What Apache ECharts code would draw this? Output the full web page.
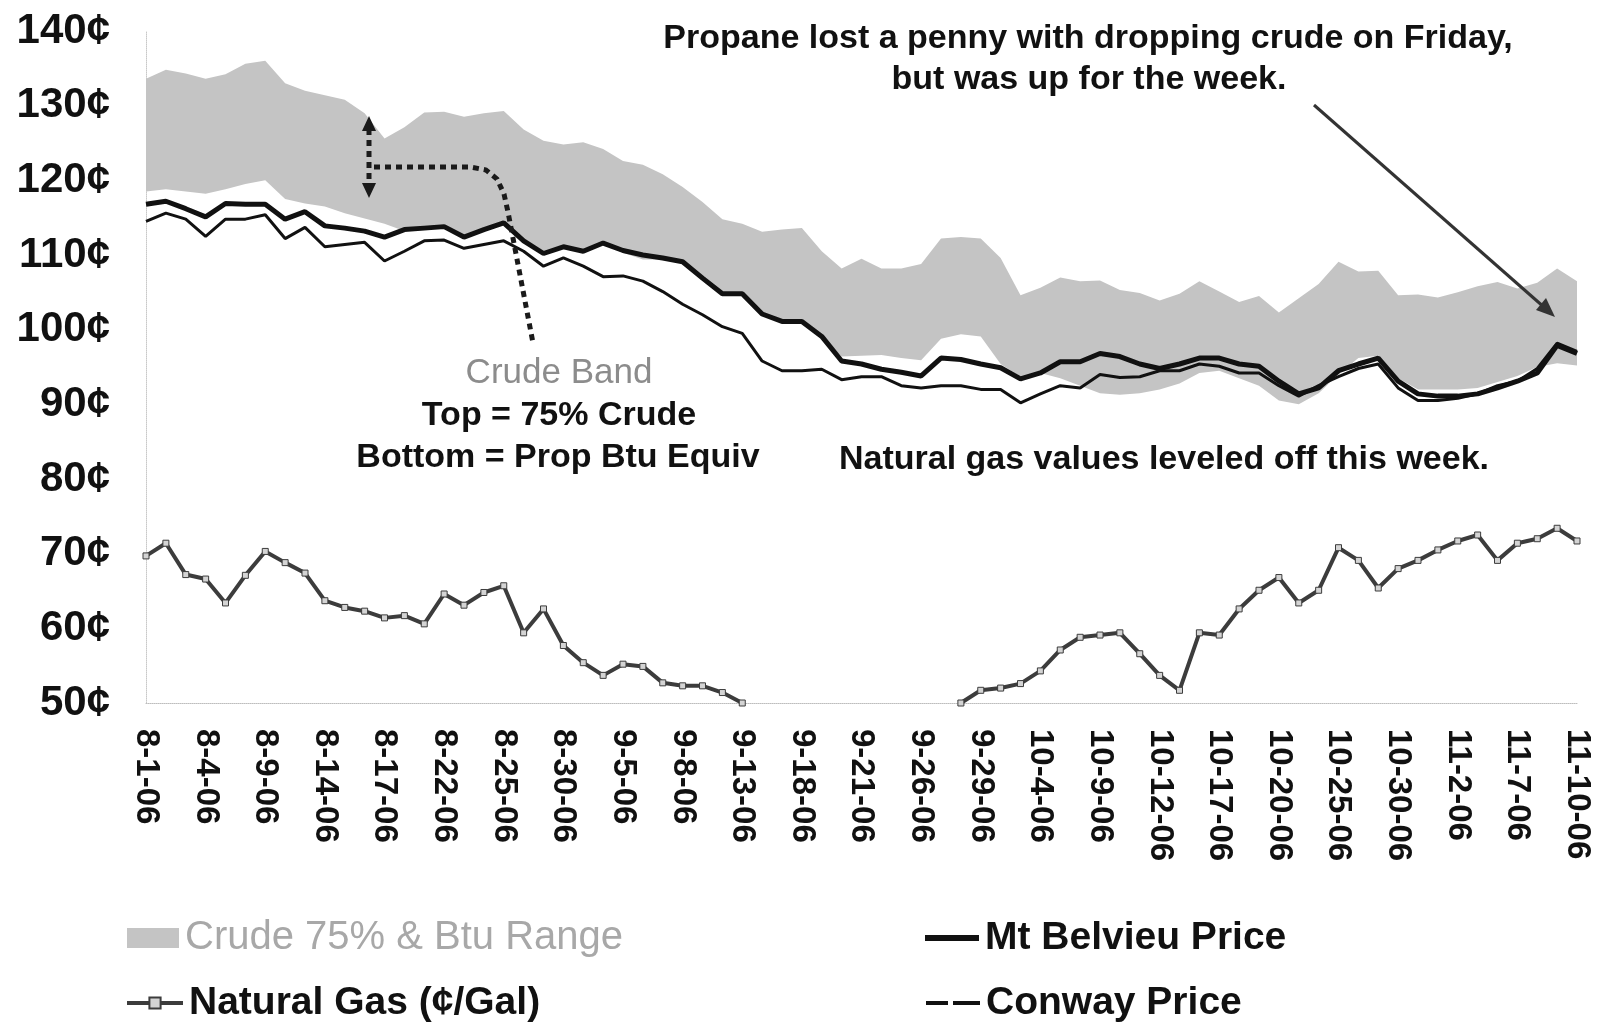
<!DOCTYPE html>
<html>
<head>
<meta charset="utf-8">
<style>
  html, body { margin: 0; padding: 0; background: #fff; }
  #chart { width: 1597px; height: 1022px; }
</style>
</head>
<body>
<div id="chart"></div>
<script src="https://cdn.jsdelivr.net/npm/echarts@6/dist/echarts.min.js"></script>
<script>
// trading days, 8-1-06 .. 11-10-06 (Labor Day skipped)
const dates = [
  '8-1-06', '8-2-06', '8-3-06', '8-4-06', '8-7-06', '8-8-06', '8-9-06', '8-10-06', '8-11-06',
  '8-14-06', '8-15-06', '8-16-06', '8-17-06', '8-18-06', '8-21-06', '8-22-06', '8-23-06', '8-24-06',
  '8-25-06', '8-28-06', '8-29-06', '8-30-06', '8-31-06', '9-1-06', '9-5-06', '9-6-06', '9-7-06',
  '9-8-06', '9-11-06', '9-12-06', '9-13-06', '9-14-06', '9-15-06', '9-18-06', '9-19-06', '9-20-06',
  '9-21-06', '9-22-06', '9-25-06', '9-26-06', '9-27-06', '9-28-06', '9-29-06', '10-2-06', '10-3-06',
  '10-4-06', '10-5-06', '10-6-06', '10-9-06', '10-10-06', '10-11-06', '10-12-06', '10-13-06', '10-16-06',
  '10-17-06', '10-18-06', '10-19-06', '10-20-06', '10-23-06', '10-24-06', '10-25-06', '10-26-06', '10-27-06',
  '10-30-06', '10-31-06', '11-1-06', '11-2-06', '11-3-06', '11-6-06', '11-7-06', '11-8-06', '11-9-06', '11-10-06',
]

// top of the band = 75% of crude (cents/gal)
const crudeTop = [
  133.6, 134.8, 134.3, 133.6, 134.2, 135.6, 136.0, 133.0, 132.0, 131.4, 130.8, 129.0, 125.6, 127.1, 129.1,
  129.2, 128.5, 129.0, 129.3, 126.8, 125.3, 124.8, 125.1, 124.2, 122.6, 122.1, 120.8, 119.1, 117.1, 114.8,
  114.2, 113.1, 113.4, 113.6, 110.5, 108.2, 109.5, 108.2, 108.2, 108.8, 112.2, 112.4, 112.2, 109.6, 104.6,
  105.6, 107.0, 106.5, 106.6, 105.3, 104.9, 103.9, 104.8, 106.5, 105.1, 103.7, 104.5, 102.3, 104.2, 106.1,
  109.1, 107.8, 107.9, 104.6, 104.7, 104.3, 105.0, 105.8, 106.4, 105.5, 106.3, 108.2, 106.5,
]

// bottom of the band = propane Btu equivalent
const btuBottom = [
  118.5, 118.8, 118.5, 118.2, 118.8, 119.5, 120.0, 117.5, 116.9, 116.5, 115.6, 114.9, 114.2, 113.2, 113.4,
  113.6, 112.2, 113.2, 114.1, 111.7, 110.0, 110.9, 110.3, 111.4, 110.3, 109.4, 109.4, 108.9, 106.7, 104.6,
  104.6, 101.9, 100.9, 100.9, 98.9, 96.4, 96.5, 96.6, 96.2, 95.9, 98.8, 99.4, 99.1, 95.4, 93.7,
  94.2, 93.5, 92.5, 91.5, 91.3, 91.5, 92.0, 92.8, 94.2, 94.5, 93.5, 92.5, 90.5, 90.0, 91.5,
  94.0, 96.2, 96.5, 93.5, 92.0, 92.0, 92.0, 92.2, 93.0, 93.8, 95.0, 95.5, 95.2,
]

// below 50 the line runs off the chart
const naturalGas = [
  69.7, 71.4, 67.2, 66.6, 63.4, 67.1, 70.3, 68.8, 67.4, 63.7, 62.8, 62.3, 61.4, 61.7, 60.6,
  64.6, 63.1, 64.8, 65.7, 59.4, 62.6, 57.7, 55.4, 53.7, 55.2, 54.9, 52.7, 52.3, 52.3, 51.4,
  50.0, null, null, null, null, null, null, null, null, null, null, 50.0, 51.7, 52.0, 52.6,
  54.3, 57.1, 58.8, 59.1, 59.4, 56.6, 53.7, 51.7, 59.4, 59.1, 62.6, 65.1, 66.8, 63.4, 65.1,
  70.8, 69.1, 65.4, 68.0, 69.1, 70.5, 71.7, 72.5, 69.1, 71.4, 72.0, 73.4, 71.7,
]

const mtBelvieu = [
  116.8, 117.2, 116.2, 115.1, 116.9, 116.8, 116.8, 114.8, 115.8, 113.9, 113.6, 113.2, 112.4, 113.4, 113.6,
  113.8, 112.4, 113.4, 114.3, 111.9, 110.2, 111.1, 110.5, 111.6, 110.6, 110.0, 109.6, 109.1, 106.9, 104.8,
  104.8, 102.1, 101.1, 101.1, 99.1, 95.8, 95.4, 94.7, 94.3, 93.8, 96.2, 96.0, 95.4, 94.9, 93.4,
  94.2, 95.7, 95.7, 96.8, 96.4, 95.4, 94.8, 95.4, 96.2, 96.2, 95.4, 95.1, 93.1, 91.4, 92.2,
  94.5, 95.4, 96.2, 93.1, 91.4, 91.1, 91.1, 91.4, 92.2, 93.1, 94.2, 97.9, 96.8,
]

const conway = [
  114.5, 115.6, 114.8, 112.5, 114.8, 114.8, 115.4, 112.2, 113.7, 111.1, 111.4, 111.7, 109.2, 110.5, 111.9,
  112.0, 110.9, 111.4, 111.9, 110.5, 108.5, 109.6, 108.5, 107.1, 107.2, 106.5, 105.1, 103.4, 102.0, 100.4,
  99.5, 95.8, 94.5, 94.5, 94.7, 93.3, 93.7, 93.7, 92.5, 92.2, 92.5, 92.5, 92.0, 92.0, 90.2,
  91.4, 92.5, 92.2, 94.0, 93.6, 93.7, 94.5, 94.5, 95.4, 95.1, 94.2, 94.2, 92.5, 91.1, 92.5,
  93.7, 94.8, 95.4, 92.2, 90.5, 90.5, 90.8, 91.4, 92.5, 93.1, 94.8, 98.2, 97.1,
]

const font = '"Liberation Sans", Arial, Helvetica, sans-serif'
const ink = '#111'
const bandGray = '#c4c4c4'
const gasInk = '#3c3c3c'

// band is drawn as a stack: invisible base + (top - bottom) filled
const bandSpan = crudeTop.map((v, i) => +(v - btuBottom[i]).toFixed(1))

const noteText = (text, x, y, opts = {}) => ({
  type: 'text',
  silent: true,
  z: 20,
  style: {
    text,
    x,
    y,
    fill: opts.color || ink,
    font: `${opts.weight || 'bold'} ${opts.size || 34}px ${font}`,
    textAlign: 'center',
    textVerticalAlign: 'middle',
  },
})

// one legend box per entry, laid out as 2 x 2
const legendBox = (name, left, top, extra = {}) => ({
  left,
  top,
  selectedMode: false,
  itemWidth: 54,
  itemHeight: 6,
  itemGap: 0,
  textStyle: { fontFamily: font, fontSize: 39, fontWeight: 'bold', color: ink, lineHeight: 44, padding: [0, 0, 0, 1] },
  data: [name],
  ...extra,
})

const option = {
  animation: false,
  backgroundColor: '#fff',
  grid: { left: 146, right: 20, top: 31, bottom: 319 },
  xAxis: {
    type: 'category',
    data: dates,
    boundaryGap: false,
    axisLine: { show: true, lineStyle: { color: '#bdbdbd', type: 'dotted', width: 1 } },
    axisTick: { show: false },
    splitLine: { show: false },
    axisLabel: {
      interval: 2,
      rotate: -90,
      margin: 26,
      color: ink,
      fontFamily: font,
      fontWeight: 'bold',
      fontSize: 33,
    },
  },
  yAxis: {
    type: 'value',
    min: 50,
    max: 140,
    interval: 10,
    axisLine: { show: true, lineStyle: { color: '#c8c8c8', type: 'dotted', width: 1 } },
    axisTick: { show: false },
    splitLine: { show: false },
    axisLabel: {
      margin: 36,
      color: ink,
      fontFamily: font,
      fontWeight: 'bold',
      fontSize: 42,
      formatter: '{value}¢',
    },
  },
  legend: [
    legendBox('Crude 75% & Btu Range', 122, 911, {
      itemWidth: 52,
      itemHeight: 20,
      data: [{
        name: 'Crude 75% & Btu Range',
        icon: 'rect',
        itemStyle: { color: bandGray },
        textStyle: { color: '#a8a8a8', fontWeight: 'normal', fontSize: 40 },
      }],
    }),
    legendBox('Natural Gas (¢/Gal)', 120, 976, {
      itemWidth: 56,
      itemHeight: 14,
      lineStyle: { width: 4 },
      data: [{ name: 'Natural Gas (¢/Gal)' }],
    }),
    legendBox('Mt Belvieu Price', 920, 911, {
      data: [{ name: 'Mt Belvieu Price', icon: 'rect', itemStyle: { color: ink } }],
    }),
    legendBox('Conway Price', 921, 976, {
      itemHeight: 5,
      data: [{ name: 'Conway Price', icon: 'path://M0,0H22V4H0Z M27,0H54V4H27Z', itemStyle: { color: ink } }],
    }),
  ],
  series: [
    {
      name: 'band-base',
      type: 'line',
      stack: 'band',
      data: btuBottom,
      symbol: 'none',
      lineStyle: { opacity: 0 },
      silent: true,
      z: 1,
    },
    {
      name: 'Crude 75% & Btu Range',
      type: 'line',
      stack: 'band',
      data: bandSpan,
      symbol: 'none',
      color: bandGray,
      lineStyle: { width: 0, opacity: 0 },
      areaStyle: { color: bandGray, opacity: 1 },
      silent: true,
      z: 1,
    },
    {
      name: 'Natural Gas (¢/Gal)',
      type: 'line',
      data: naturalGas,
      connectNulls: false,
      symbol: 'rect',
      symbolSize: 6,
      showAllSymbol: true,
      color: gasInk,
      lineStyle: { color: gasInk, width: 4 },
      itemStyle: { color: '#d4d4d4', borderColor: gasInk, borderWidth: 1 },
      emphasis: { disabled: true },
      z: 3,
    },
    {
      name: 'Conway Price',
      type: 'line',
      data: conway,
      symbol: 'none',
      color: ink,
      lineStyle: { color: ink, width: 3 },
      emphasis: { disabled: true },
      z: 3,
    },
    {
      name: 'Mt Belvieu Price',
      type: 'line',
      data: mtBelvieu,
      symbol: 'none',
      color: ink,
      lineStyle: { color: ink, width: 5 },
      emphasis: { disabled: true },
      z: 4,
    },
  ],
  graphic: [
    noteText('Propane lost a penny with dropping crude on Friday,', 1088, 39),
    noteText('but was up for the week.', 1089, 80),
    noteText('Crude Band', 559, 373, { weight: 'normal', color: '#8c8c8c', size: 35 }),
    noteText('Top = 75% Crude', 559, 416),
    noteText('Bottom = Prop Btu Equiv', 558, 458),
    noteText('Natural gas values leveled off this week.', 1164, 460),
    // arrow to the last week
    {
      type: 'line',
      silent: true,
      z: 20,
      shape: { x1: 1314, y1: 105, x2: 1545, y2: 308 },
      style: { stroke: '#333', lineWidth: 3 },
    },
    {
      type: 'polygon',
      silent: true,
      z: 20,
      shape: { points: [[1555, 317], [1536, 310], [1546, 298]] },
      style: { fill: '#333' },
    },
    // dotted pointer from the band width to the "Crude Band" note
    {
      type: 'line',
      silent: true,
      z: 20,
      shape: { x1: 369, y1: 129, x2: 369, y2: 185 },
      style: { stroke: '#1a1a1a', lineWidth: 5, lineDash: [6, 5] },
    },
    {
      type: 'polygon',
      silent: true,
      z: 20,
      shape: { points: [[369, 116], [362, 131], [376, 131]] },
      style: { fill: '#1a1a1a' },
    },
    {
      type: 'polygon',
      silent: true,
      z: 20,
      shape: { points: [[369, 198], [362, 183], [376, 183]] },
      style: { fill: '#1a1a1a' },
    },
    {
      type: 'polyline',
      silent: true,
      z: 20,
      shape: { points: [[374, 167], [470, 167], [486, 170], [497, 179], [504, 194], [508, 212], [533, 343]] },
      style: { stroke: '#1a1a1a', lineWidth: 5, lineDash: [6, 5], fill: null },
    },
  ],
}

const chart = echarts.init(document.getElementById('chart'))
chart.setOption(option)
</script>
</body>
</html>
